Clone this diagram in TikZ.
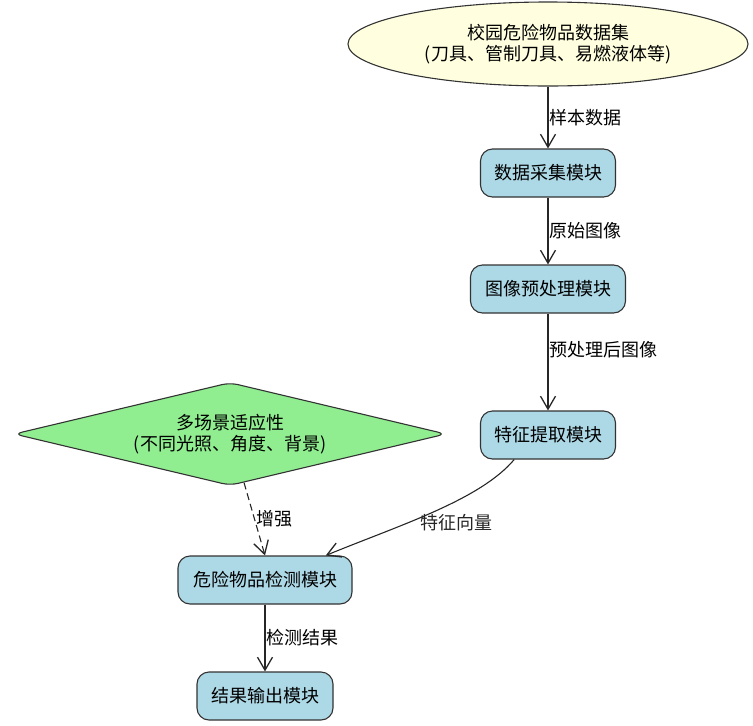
\documentclass[tikz,border=0pt]{standalone}
\usepackage{fontspec}
\setmainfont{Noto Sans CJK SC}
\usetikzlibrary{shapes.geometric, arrows.meta, positioning}
\tikzset{>={Straight Barb[length=13pt, width=15pt, line width=1.3pt]}}

\begin{document}
\begin{tikzpicture}[
  x=1pt, y=-1pt,
  font=\fontsize{18}{21}\selectfont,
  dataset/.style={ellipse, draw=black!80, line width=1.1pt, fill={rgb,255:red,255;green,255;blue,224}, minimum width=400pt, minimum height=84pt, align=center, inner sep=0pt},
  module/.style={rectangle, rounded corners=12pt, draw=black!80, line width=1.1pt, fill={rgb,255:red,173;green,216;blue,230}, minimum height=48pt, inner xsep=10pt},
  scene/.style={diamond, rounded corners=8pt, draw=black!80, line width=1.1pt, fill={rgb,255:red,144;green,238;blue,144}, aspect=4.2, minimum width=432pt, minimum height=103pt, align=center, inner sep=0pt},
  flow/.style={->, line width=1.1pt, black!85},
  boost/.style={->, line width=1.1pt, dash pattern=on 7pt off 4pt, black!85},
  edgelabel/.style={right, inner sep=1pt, text=black}
]
\useasboundingbox (0,0) rectangle (753,726);

% Dataset source
\node[dataset] (data) at (548,44) {校园危险物品数据集\\(刀具、管制刀具、易燃液体等)};

% Processing chain
\node[module, minimum width=135pt] (collect) at (548,173) {数据采集模块};
\node[module, minimum width=155pt] (prep) at (548,289) {图像预处理模块};
\node[module, minimum width=135pt] (feat) at (548,435) {特征提取模块};

% Scene adaptivity
\node[scene] (adapt) at (230,434) {多场景适应性\\(不同光照、角度、背景)};

% Detection and output
\node[module, minimum width=174pt] (detect) at (265,580) {危险物品检测模块};
\node[module, minimum width=136pt] (result) at (265,696) {结果输出模块};

% Connections
\draw[flow] (data) -- node[edgelabel] {样本数据} (collect);
\draw[flow] (collect) -- node[edgelabel] {原始图像} (prep);
\draw[flow] (prep) -- node[edgelabel, pos=0.37] {预处理后图像} (feat);
\draw[flow] (feat.216) .. controls (480,500) and (400,525) .. node[pos=0.58, anchor=north west, inner sep=1pt, yshift=6pt] {特征向量} (detect.22);
\draw[boost] (adapt) -- node[edgelabel, pos=0.5] {增强} (detect.north);
\draw[flow] (detect) -- node[edgelabel] {检测结果} (result);

\end{tikzpicture}
\end{document}
